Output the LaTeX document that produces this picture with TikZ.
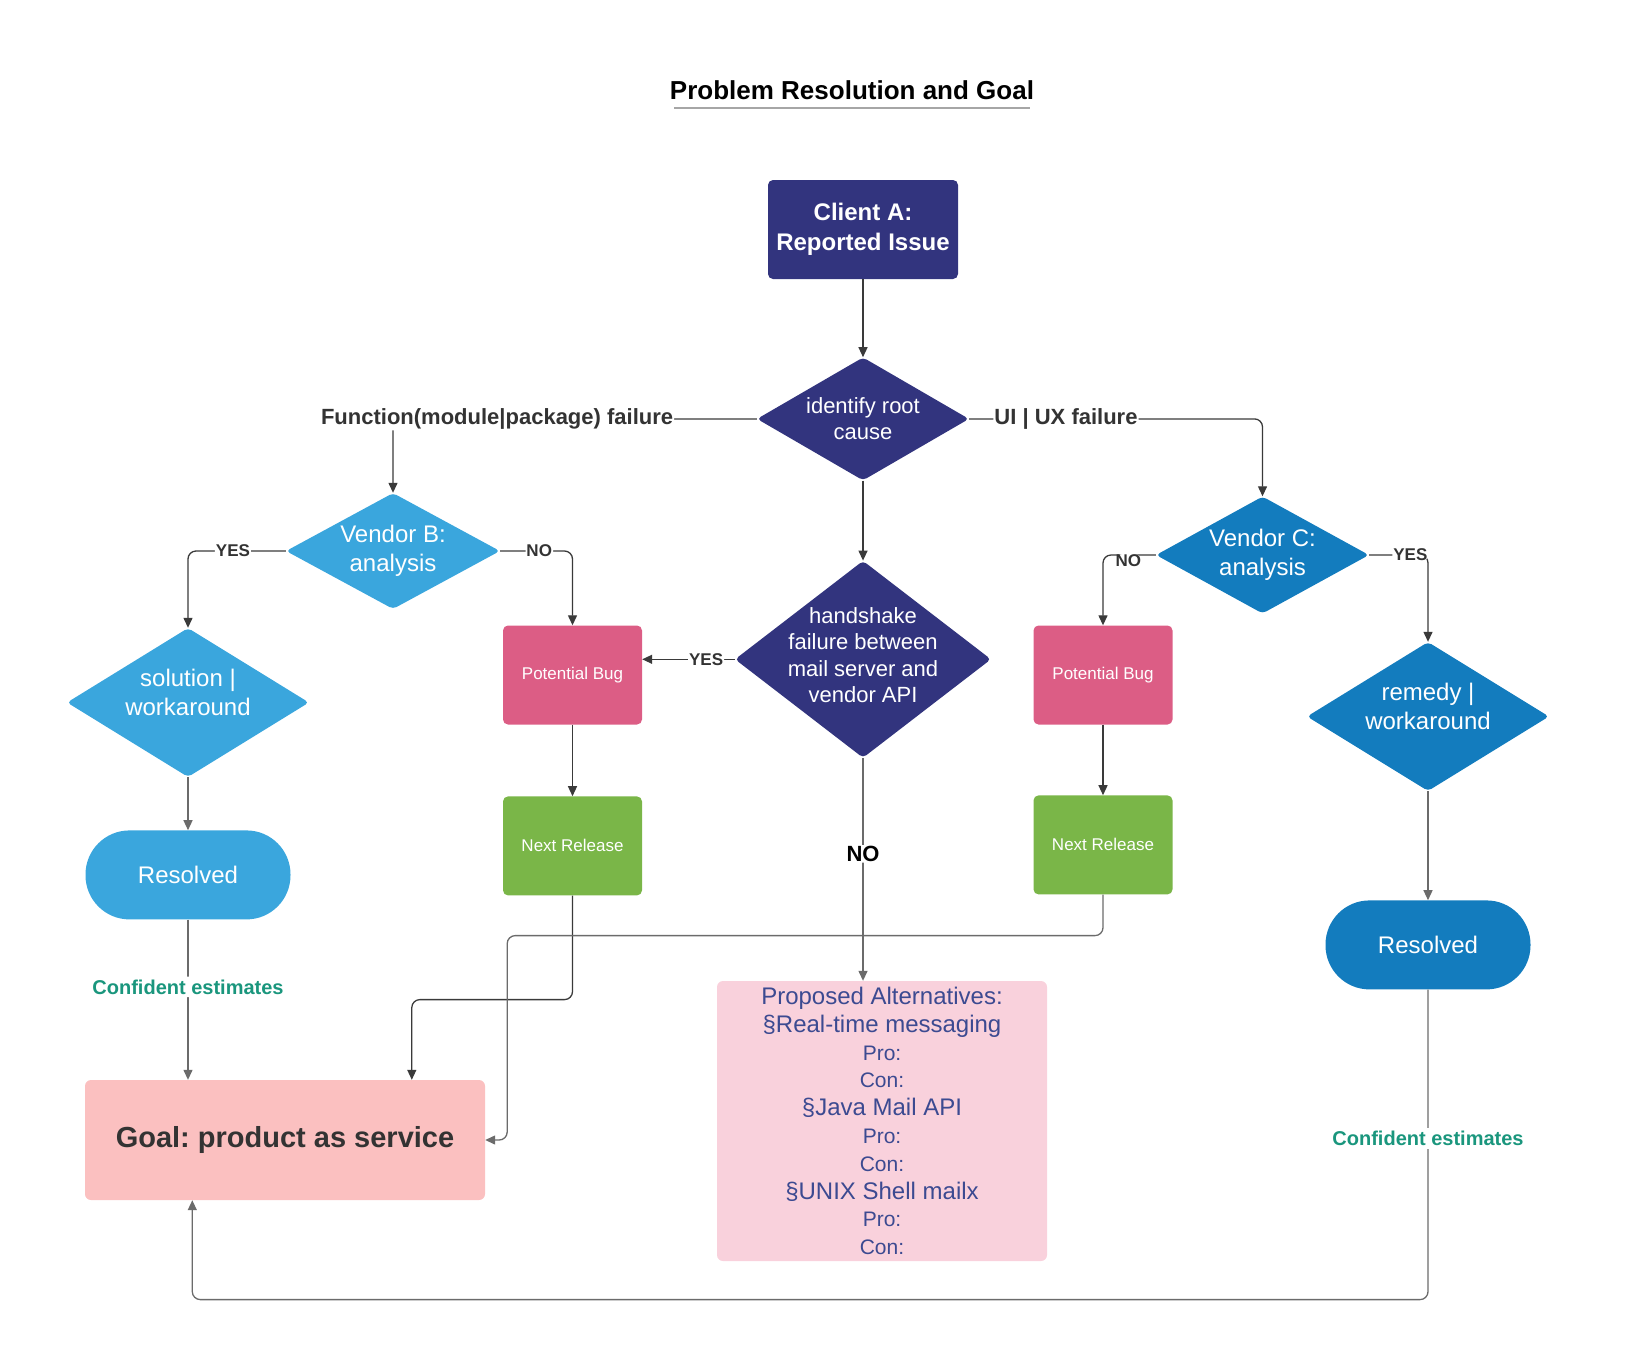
\documentclass[tikz,border=0pt]{standalone}
\usepackage{fontspec}
\setmainfont{Liberation Sans}
\usetikzlibrary{shapes.geometric,positioning,arrows.meta}
\frenchspacing

\definecolor{navy}{HTML}{32347E}
\definecolor{lblue}{HTML}{3AA6DD}
\definecolor{dblue}{HTML}{137CBE}
\definecolor{bugpink}{HTML}{DC5D85}
\definecolor{relgreen}{HTML}{7AB648}
\definecolor{goalpink}{HTML}{FBC0C0}
\definecolor{altpink}{HTML}{F9D1DC}
\definecolor{altblue}{HTML}{3C4A91}
\definecolor{estgreen}{HTML}{1A967D}
\definecolor{labeltext}{HTML}{333333}
\definecolor{linedark}{HTML}{3A3A3A}
\definecolor{linegray}{HTML}{6B6B6B}

\newcommand{\fsz}[2]{\fontsize{#1}{#2}\selectfont}
\newcommand{\procon}{{\fsz{21}{27.8}Pro:}\\{\fsz{21}{27.8}Con:}}

\begin{document}
\begin{tikzpicture}[->,>={Triangle[length=10pt,width=9pt]},x=1pt,y=-1pt,
  flow/.style={draw=linedark,line width=1.3pt,rounded corners=8pt},
  softflow/.style={flow,draw=linegray},
  box/.style={rectangle,rounded corners=5pt,inner sep=2pt,align=center,text=white,fill=#1},
  decision/.style={diamond,rounded corners=4pt,inner sep=-30pt,align=center,text=white,fill=#1},
  pill/.style={rectangle,rounded corners=44pt,align=center,text=white,fill=#1,
    minimum width=205pt,minimum height=89pt,font=\fsz{24}{29}},
  answer/.style={font=\bfseries\fsz{17}{20},text=labeltext,fill=white,inner sep=1pt},
  branch/.style={font=\bfseries\fsz{22}{26},text=labeltext,fill=white,inner sep=1pt},
  estimate/.style={font=\bfseries\fsz{20}{24},text=estgreen,fill=white,inner sep=3pt}]
  \useasboundingbox (0,0) rectangle (1632,1360);

  % title
  \node[font=\bfseries\fsz{26}{30}] (title) at (852,90) {Problem Resolution and Goal};
  \draw[-,draw=black!35,line width=2pt] (674,108) -- (1030,108);

  % centre column
  \node[box=navy,minimum width=190pt,minimum height=99pt,font=\bfseries\fsz{24}{30}]
    (client) at (863,229.5) {Client A:\\Reported Issue};
  \node[decision=navy,minimum width=212pt,minimum height=123pt,font=\fsz{22}{26}]
    (idr) [below=78pt of client] {identify root\\cause};
  \node[decision=navy,minimum width=256pt,minimum height=197pt,font=\fsz{22}{26.5}]
    (hs) [below=80pt of idr] {handshake\\failure between\\mail server and\\vendor API\\[-18pt]\mbox{}};
  \node[rectangle,rounded corners=6pt,fill=altpink,text=altblue,align=center,
    minimum width=330pt,minimum height=280pt,font=\fsz{24}{27.8}] (alt) at (882,1121)
    {Proposed Alternatives:\\§Real-time messaging\\\procon\\§Java Mail API\\\procon\\§UNIX Shell mailx\\\procon};

  % vendor B side
  \node[decision=lblue,minimum width=214pt,minimum height=116pt,font=\fsz{24}{29}]
    (vb) at (393,551) {Vendor B:\\analysis};
  \node[decision=lblue,minimum width=242pt,minimum height=149pt,font=\fsz{24}{29}]
    (sol) at (188,702.5) {solution |\\workaround\\[-9pt]\mbox{}};
  \node[pill=lblue] (res1) [below=53pt of sol] {Resolved};
  \node[box=bugpink,minimum width=139pt,minimum height=99pt,font=\fsz{17}{20}]
    (pb1) at (572.5,675) {Potential Bug};
  \node[box=relgreen,minimum width=139pt,minimum height=99pt,font=\fsz{17}{20}]
    (nr1) [below=71.5pt of pb1] {Next Release};
  \node[rectangle,rounded corners=6pt,fill=goalpink,text=labeltext,
    minimum width=400pt,minimum height=120pt,font=\bfseries\fsz{29}{34}]
    (goal) at (285,1140) {Goal: product as service};

  % vendor C side
  \node[decision=dblue,minimum width=213pt,minimum height=117pt,font=\fsz{24}{29}]
    (vc) at (1262.5,555) {Vendor C:\\analysis};
  \node[decision=dblue,minimum width=242pt,minimum height=149pt,font=\fsz{24}{29}]
    (rem) at (1428,716.5) {remedy |\\workaround\\[-9pt]\mbox{}};
  \node[pill=dblue] (res2) [below=109pt of rem] {Resolved};
  \node[box=bugpink,minimum width=139pt,minimum height=99pt,font=\fsz{17}{20}]
    (pb2) at (1103,675) {Potential Bug};
  \node[box=relgreen,minimum width=139pt,minimum height=99pt,font=\fsz{17}{20}]
    (nr2) [below=70.5pt of pb2] {Next Release};

  % connectors
  \draw[flow] (client) -- (idr);
  \draw[flow] (idr) -- (hs);
  \draw[flow] (idr.west) -| node[branch,pos=0.357] (fnlab) {Function(module|package) failure} (vb.north);
  \draw[flow] (idr.east) -| node[branch,pos=0.165] (uilab) {UI | UX failure} (vc.north);
  \draw[flow] (vb.west) -| node[answer,pos=0.27] (yes1) {YES} (sol.north);
  \draw[flow] (vb.east) -| node[answer,pos=0.27] (no1) {NO} (pb1.north);
  \draw[flow] (hs.west) -- node[answer,pos=0.31] (yes2) {YES} (hs.west -| pb1.east);
  \draw[flow] (vc.west) -| node[answer,pos=0.26,yshift=-6pt] (no2) {NO} (pb2.north);
  \draw[flow] (vc.east) -| node[answer,pos=0.35] (yes3) {YES} (rem.north);
  \draw[flow] (pb1) -- (nr1);
  \draw[flow] (pb2) -- (nr2);
  \draw[softflow] (sol) -- (res1);
  \draw[softflow] (rem) -- (res2);
  \draw[softflow] (hs.south) -- node[branch,text=black,pos=0.43] (nolab) {NO} (hs.south |- alt.north);
  \draw[softflow] (res1.south) -- node[estimate,pos=0.42] (est1) {Confident estimates} (res1.south |- goal.north);
  \draw[softflow] (res2.south) -- node[estimate,pos=0.48] (est2) {Confident estimates} ++(0,310)
    -| ([xshift=107.5pt]goal.south west);
  \draw[flow] (nr1.south) -- ++(0,104) -| ([xshift=327pt]goal.north west);
  \draw[softflow] (nr2.south) -- ++(0,41) -| ([xshift=22pt]goal.east) -- (goal.east);
\end{tikzpicture}
\end{document}
